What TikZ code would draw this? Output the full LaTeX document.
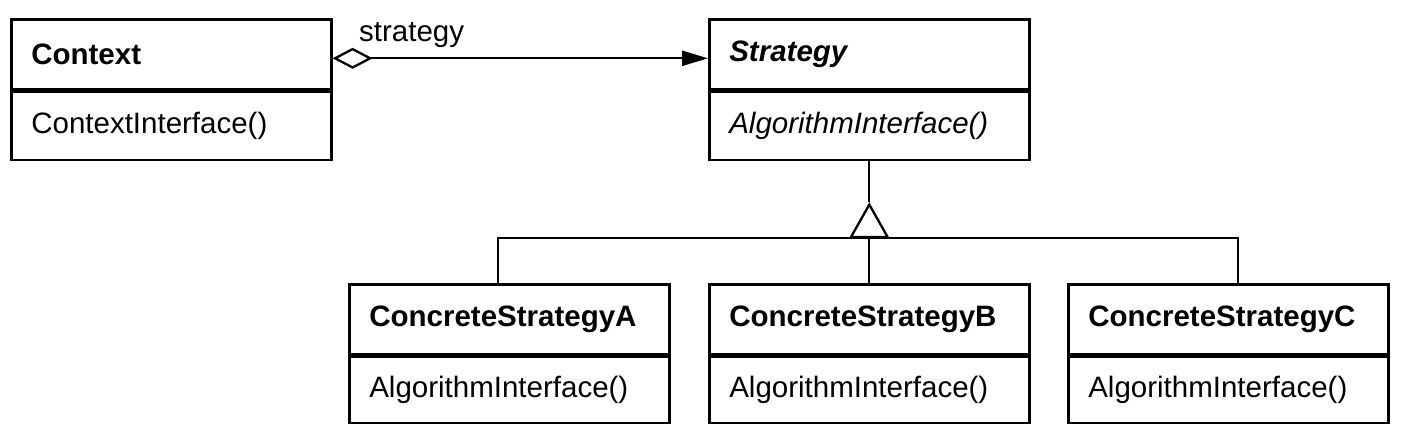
\documentclass[tikz,border=0pt]{standalone}
\usepackage{fontspec}
\setmainfont{Liberation Sans}
\usetikzlibrary{arrows.meta}
\begin{document}
\begin{tikzpicture}[x=1pt,y=-1pt,
  box/.style={draw, line width=2.6pt, minimum width=320pt, text width=280pt,
    inner xsep=20pt, inner ysep=0pt, align=left, anchor=north west,
    font=\fontsize{29.5}{33}\selectfont},
  ctitle/.style={box, minimum height=70pt, font=\fontsize{29.5}{33}\selectfont\bfseries},
  cmeth/.style={box, minimum height=68pt},
  cmethlow/.style={box, minimum height=66pt},
  conn/.style={line width=2.3pt}]
\useasboundingbox (0,0) rectangle (1412,441);

% Context
\node[ctitle] (ctx) at (10,18) {Context};
\node[cmeth] (ctxm) at (ctx.south west) {ContextInterface()};

% Strategy
\node[ctitle] (str) at (708,18) {\itshape Strategy};
\node[cmeth] (strm) at (str.south west) {\itshape AlgorithmInterface()};

% Concrete strategies
\node[ctitle] (as) at (348,283) {ConcreteStrategyA};
\node[cmethlow] (asm) at (as.south west) {AlgorithmInterface()};
\node[ctitle] (bs) at (708,283) {ConcreteStrategyB};
\node[cmethlow] (bsm) at (bs.south west) {AlgorithmInterface()};
\node[ctitle] (cs) at (1067,283) {ConcreteStrategyC};
\node[cmethlow] (csm) at (cs.south west) {AlgorithmInterface()};

% aggregation
\draw[conn, {Diamond[open,length=40pt,width=21pt]}-{Triangle[length=26pt,width=15pt]}]
  ([yshift=-4pt]ctx.east) -- ([yshift=-4pt]str.west);
\node[anchor=base west, inner sep=0pt, font=\fontsize{29.5}{33}\selectfont] (lbl) at (359,42) {strategy};

% inheritance
\path (strm.south) ++(0,41) coordinate (apex) ++(0,36) coordinate (bus);
\draw[conn] (strm.south) -- (apex);
\draw[conn, -{Triangle[open,length=36pt,width=40pt]}] (bus) -- (apex);
\draw[conn] (bus) -- (bs.north);
\draw[conn] ([xshift=-11pt]as.north) |- (bus);
\draw[conn] ([xshift=10pt]cs.north) |- (bus);
\end{tikzpicture}
\end{document}
